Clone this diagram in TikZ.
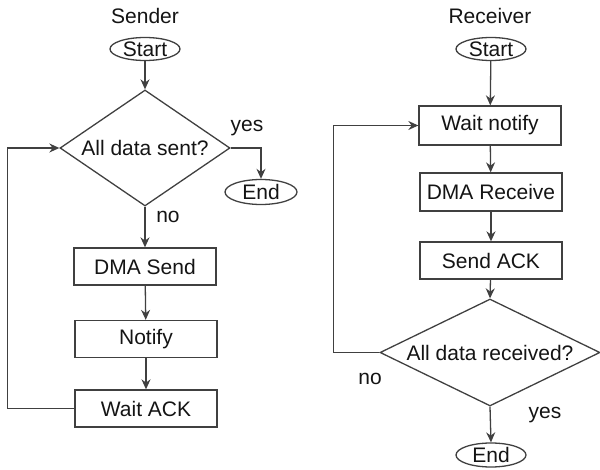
\documentclass[tikz,border=0pt]{standalone}
\usepackage{fontspec}
\setmainfont{Liberation Sans}
\usetikzlibrary{shapes.geometric,arrows.meta}
\begin{document}
\begin{tikzpicture}[x=1pt,y=-1pt,
  every node/.style={font=\fontsize{21}{25}\selectfont, text=black!92},
  box/.style={draw=black!75, line width=1.3pt, minimum width=142pt, minimum height=37pt, inner sep=0pt},
  term/.style={draw=black!75, line width=1.3pt, ellipse, minimum width=70pt, minimum height=23pt, inner sep=0pt},
  dec/.style={draw=black!75, line width=1.3pt, diamond, inner sep=0pt},
  arr/.style={draw=black!75, line width=1.3pt, -{Stealth[length=10pt,width=9pt]}},
  ln/.style={draw=black!75, line width=1.3pt}]
\useasboundingbox (0,0) rectangle (600,470);
% Sender
\node (sender) at (145,16) {Sender};
\node[term] (s1) at (145,49) {Start};
\node[dec, minimum width=170pt, minimum height=116pt, label={center:All data sent?}] (d1) at (145,148) {};
\node[term, minimum width=72pt, minimum height=25pt] (e1) at (261,192) {End};
\node (yes1) at (247,128) {yes};
\node (no1) at (168,217) {no};
\node[box] (dma1) at (145,266.5) {DMA Send};
\node[box] (nt) at (146,339) {Notify};
\node[box] (wa) at (146,408.5) {Wait ACK};
\draw[arr] (s1) -- (d1.north);
\draw[arr] (d1.east) -| (e1.north);
\draw[arr] (d1.south) -- (dma1.north);
\draw[arr] (dma1) -- (nt);
\draw[arr] (nt) -- (wa);
\draw[arr] (wa.west) -- ++(-67,0) |- (d1.west);
% Receiver
\node (recv) at (490,16) {Receiver};
\node[term] (s2) at (491,49) {Start};
\node[box, minimum height=39pt] (wn) at (490,125.5) {Wait notify};
\node[box, minimum height=38pt] (dma2) at (491,192) {DMA Receive};
\node[box] (sa) at (491,260.5) {Send ACK};
\node[dec, minimum width=220pt, minimum height=107pt, label={center:All data received?}] (d2) at (490,352.5) {};
\node (no2) at (370,379) {no};
\node (yes2) at (545,415) {yes};
\node[term, minimum height=24pt] (e2) at (491,455) {End};
\draw[arr] (s2) -- (wn);
\draw[arr] (wn) -- (dma2);
\draw[arr] (dma2) -- (sa);
\draw[arr] (sa) -- (d2.north);
\draw[arr] (d2.south) -- (e2.north);
\draw[arr] (d2.west) -- ++(-46,0) |- (wn.west);
\end{tikzpicture}
\end{document}
